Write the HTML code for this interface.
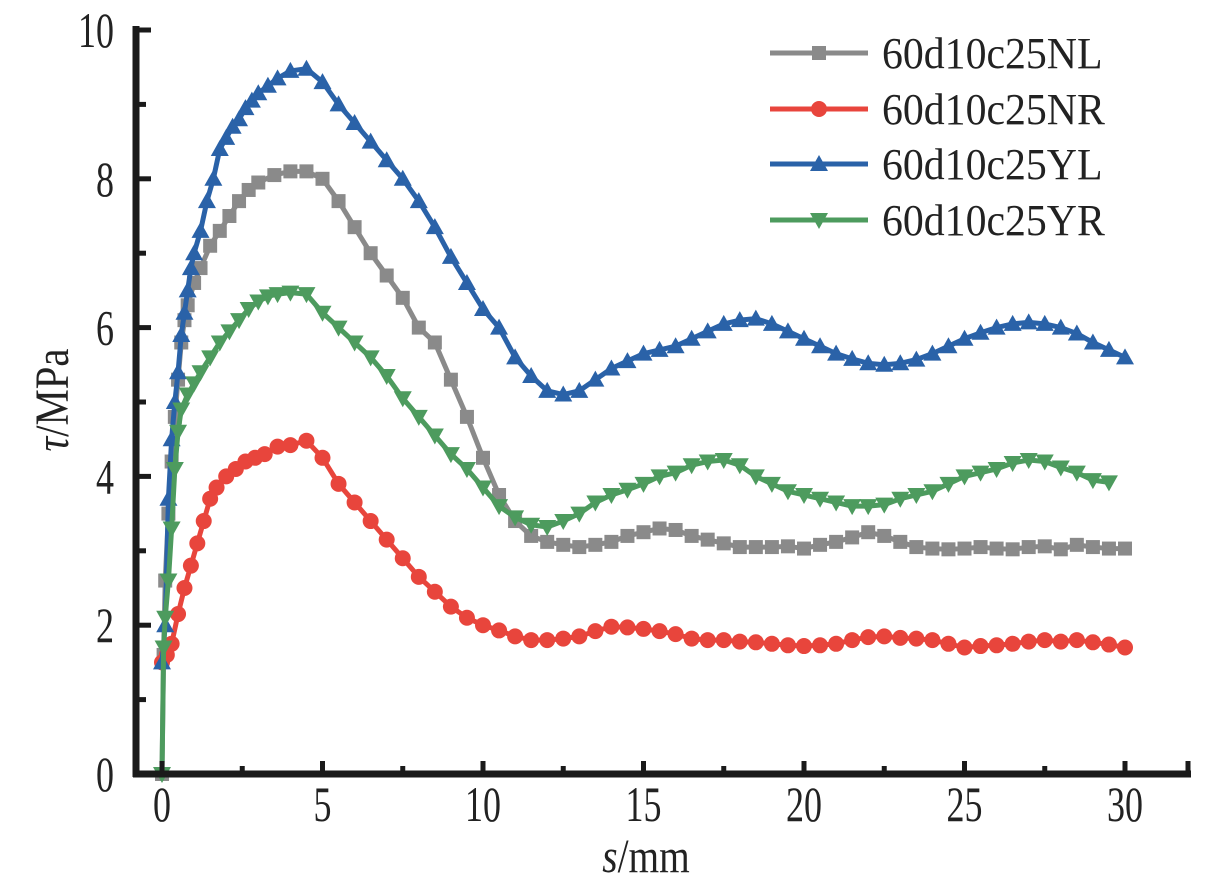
<!DOCTYPE html>
<html><head><meta charset="utf-8"><style>
body{margin:0;background:#fff}
svg{display:block}
text{font-family:"Liberation Serif",serif;fill:#222}
</style></head><body>
<svg id="chart" width="1212" height="882" viewBox="0 0 1212 882"></svg>
<script>
const xTicks=[0,5,10,15,20,25,30];
const yTicks=[0,2,4,6,8,10];
const seriesNames=["60d10c25NL","60d10c25NR","60d10c25YL","60d10c25YR"];
const nlX=[0,0.05,0.1,0.2,0.3,0.4,0.5,0.6,0.7,0.8,1,1.2,1.5,1.8,2.1,2.4,2.7,3,3.5,4,4.5,5,5.5,6,6.5,7,7.5,8,8.5,9,9.5,10,10.5,11,11.5,12,12.5,13,13.5,14,14.5,15,15.5,16,16.5,17,17.5,18,18.5,19,19.5,20,20.5,21,21.5,22,22.5,23,23.5,24,24.5,25,25.5,26,26.5,27,27.5,28,28.5,29,29.5,30];
const nlY=[0,1.6,2.6,3.5,4.2,4.8,5.3,5.8,6.1,6.3,6.6,6.8,7.1,7.3,7.5,7.7,7.85,7.95,8.05,8.1,8.1,8.0,7.7,7.35,7.0,6.7,6.4,6.0,5.8,5.3,4.8,4.25,3.75,3.4,3.2,3.12,3.08,3.05,3.08,3.12,3.2,3.25,3.3,3.28,3.2,3.15,3.1,3.05,3.05,3.05,3.06,3.03,3.08,3.12,3.18,3.25,3.2,3.12,3.05,3.03,3.02,3.03,3.05,3.03,3.02,3.05,3.06,3.02,3.08,3.05,3.03,3.03];
const nrX=[0,0.15,0.3,0.5,0.7,0.9,1.1,1.3,1.5,1.7,2,2.3,2.6,2.9,3.2,3.6,4,4.5,5,5.5,6,6.5,7,7.5,8,8.5,9,9.5,10,10.5,11,11.5,12,12.5,13,13.5,14,14.5,15,15.5,16,16.5,17,17.5,18,18.5,19,19.5,20,20.5,21,21.5,22,22.5,23,23.5,24,24.5,25,25.5,26,26.5,27,27.5,28,28.5,29,29.5,30];
const nrY=[1.5,1.6,1.75,2.15,2.5,2.8,3.1,3.4,3.7,3.85,4.0,4.1,4.2,4.25,4.3,4.4,4.42,4.48,4.25,3.9,3.65,3.4,3.15,2.9,2.65,2.45,2.25,2.1,2.0,1.93,1.85,1.8,1.8,1.82,1.85,1.92,1.98,1.97,1.95,1.92,1.88,1.82,1.8,1.8,1.78,1.77,1.75,1.73,1.72,1.73,1.75,1.8,1.84,1.85,1.83,1.82,1.8,1.75,1.7,1.72,1.73,1.75,1.78,1.8,1.78,1.8,1.77,1.74,1.7];
const ylX=[0,0.1,0.2,0.3,0.4,0.5,0.6,0.7,0.8,0.9,1,1.2,1.4,1.6,1.8,2,2.2,2.4,2.6,2.8,3,3.3,3.6,4,4.5,5,5.5,6,6.5,7,7.5,8,8.5,9,9.5,10,10.5,11,11.5,12,12.5,13,13.5,14,14.5,15,15.5,16,16.5,17,17.5,18,18.5,19,19.5,20,20.5,21,21.5,22,22.5,23,23.5,24,24.5,25,25.5,26,26.5,27,27.5,28,28.5,29,29.5,30];
const ylY=[1.5,2.0,3.7,4.5,5.0,5.4,5.9,6.2,6.5,6.8,7.0,7.3,7.7,8.0,8.4,8.55,8.7,8.8,8.95,9.05,9.15,9.25,9.35,9.45,9.48,9.3,9.0,8.75,8.5,8.25,8.0,7.7,7.35,6.95,6.6,6.25,6.0,5.6,5.35,5.15,5.1,5.15,5.3,5.45,5.55,5.65,5.7,5.75,5.85,5.95,6.05,6.1,6.12,6.05,5.95,5.85,5.75,5.65,5.58,5.52,5.5,5.52,5.57,5.65,5.75,5.85,5.93,6.0,6.05,6.07,6.05,6.0,5.92,5.8,5.7,5.6];
const yrX=[0,0.05,0.1,0.2,0.3,0.4,0.5,0.6,0.8,1,1.2,1.5,1.8,2.1,2.4,2.7,3,3.3,3.6,4,4.5,5,5.5,6,6.5,7,7.5,8,8.5,9,9.5,10,10.5,11,11.5,12,12.5,13,13.5,14,14.5,15,15.5,16,16.5,17,17.5,18,18.5,19,19.5,20,20.5,21,21.5,22,22.5,23,23.5,24,24.5,25,25.5,26,26.5,27,27.5,28,28.5,29,29.5];
const yrY=[0,1.7,2.1,2.6,3.3,4.1,4.6,4.9,5.1,5.25,5.4,5.6,5.8,5.95,6.1,6.25,6.35,6.42,6.45,6.47,6.45,6.2,6.0,5.8,5.6,5.35,5.05,4.8,4.55,4.3,4.1,3.85,3.6,3.45,3.35,3.32,3.4,3.5,3.65,3.75,3.82,3.9,4.0,4.05,4.15,4.2,4.22,4.15,4.0,3.9,3.8,3.75,3.7,3.65,3.6,3.6,3.62,3.7,3.75,3.8,3.9,4.0,4.05,4.1,4.18,4.22,4.2,4.12,4.05,3.95,3.92];

const svg=document.getElementById('chart');
const NS='http://www.w3.org/2000/svg';
const X0=162,X1=1125,Y0=774,Y1=30;
function sx(v){return X0+(v-0)/(30-0)*(X1-X0);}
function sy(v){return Y0-(v-0)/(10-0)*(Y0-Y1);}
function mk(tag,attrs,parent){const e=document.createElementNS(NS,tag);for(const k in attrs)e.setAttribute(k,attrs[k]);(parent||svg).appendChild(e);return e;}

const colors=["#8a8a8a","#e8453c","#2a62a8","#4d9b5e"];
const shapes=["square","circle","up","down"];
const allX=[nlX,nrX,ylX,yrX], allY=[nlY,nrY,ylY,yrY];
function marker(shape,x,y,c,g){
  let e;
  if(shape==="square") e=mk('rect',{x:x-7,y:y-7,width:14,height:14,fill:c},g);
  else if(shape==="circle") e=mk('circle',{cx:x,cy:y,r:8,fill:c},g);
  else if(shape==="up") e=mk('polygon',{points:`${x},${y-9} ${x-9},${y+7} ${x+9},${y+7}`,fill:c},g);
  else e=mk('polygon',{points:`${x},${y+9} ${x-9},${y-7} ${x+9},${y-7}`,fill:c},g);
  return e;
}
[0,1,2,3].forEach(i=>{
  const g=mk('g',{});
  
  
  const pts=allX[i].map((v,j)=>sx(v)+','+sy(allY[i][j])).join(' ');
  const pl=mk('polyline',{points:pts,fill:'none',stroke:colors[i],'stroke-width':5,'stroke-linejoin':'round'},g);
  
  
  allX[i].forEach((v,j)=>{
    const m=marker(shapes[i],sx(v),sy(allY[i][j]),colors[i],g);
    
    
  });
});

const ax=mk('g',{});


mk('line',{x1:136,y1:26,x2:136,y2:777,stroke:'#1a1a1a','stroke-width':7},ax);
mk('line',{x1:133,y1:774,x2:1191,y2:774,stroke:'#1a1a1a','stroke-width':7},ax);
for(let v=0;v<=30;v+=2.5){
  const major=v%5===0;
  mk('line',{x1:sx(v),y1:774,x2:sx(v),y2:major?761:766,stroke:'#1a1a1a','stroke-width':5},ax);
}
mk('line',{x1:1188,y1:774,x2:1188,y2:761,stroke:'#1a1a1a','stroke-width':5},ax);
for(let v=1;v<=10;v+=1){
  const major=v%2===0;
  mk('line',{x1:136,y1:sy(v),x2:major?151:146,y2:sy(v),stroke:'#1a1a1a','stroke-width':5},ax);
}
xTicks.forEach(v=>{
  const t=mk('text',{x:sx(v),y:821,'text-anchor':'middle','font-size':50,transform:`translate(${sx(v)},0) scale(0.72,1) translate(${-sx(v)},0)`},ax);
  t.textContent=v;
  
  
});
yTicks.forEach(v=>{
  const t=mk('text',{x:114,y:sy(v)+17,'text-anchor':'end','font-size':50,transform:`translate(114,0) scale(0.72,1) translate(-114,0)`},ax);
  t.textContent=v;
  
  
});
const xt=mk('text',{x:646,y:872,'text-anchor':'middle','font-size':48,transform:'translate(646,0) scale(0.82,1) translate(-646,0)'});
xt.innerHTML='<tspan font-style="italic">s</tspan>/mm';


const yt=mk('text',{x:0,y:0,'text-anchor':'middle','font-size':48,transform:'translate(68,400) rotate(-90) scale(0.85,1)'});
yt.innerHTML='<tspan font-style="italic">τ</tspan>/MPa';



const lg=mk('g',{});


const ly=[53,109,164,220];
seriesNames.forEach((n,i)=>{
  const e=mk('g',{},lg);
  
  
  mk('line',{x1:770,y1:ly[i],x2:868,y2:ly[i],stroke:colors[i],'stroke-width':5},e);
  marker(shapes[i],819,ly[i],colors[i],e);
  const t=mk('text',{x:882,y:ly[i]+15,'font-size':44,transform:'translate(882,0) scale(0.95,1) translate(-882,0)'},e);
  t.textContent=n;
});
</script>
</body></html>
